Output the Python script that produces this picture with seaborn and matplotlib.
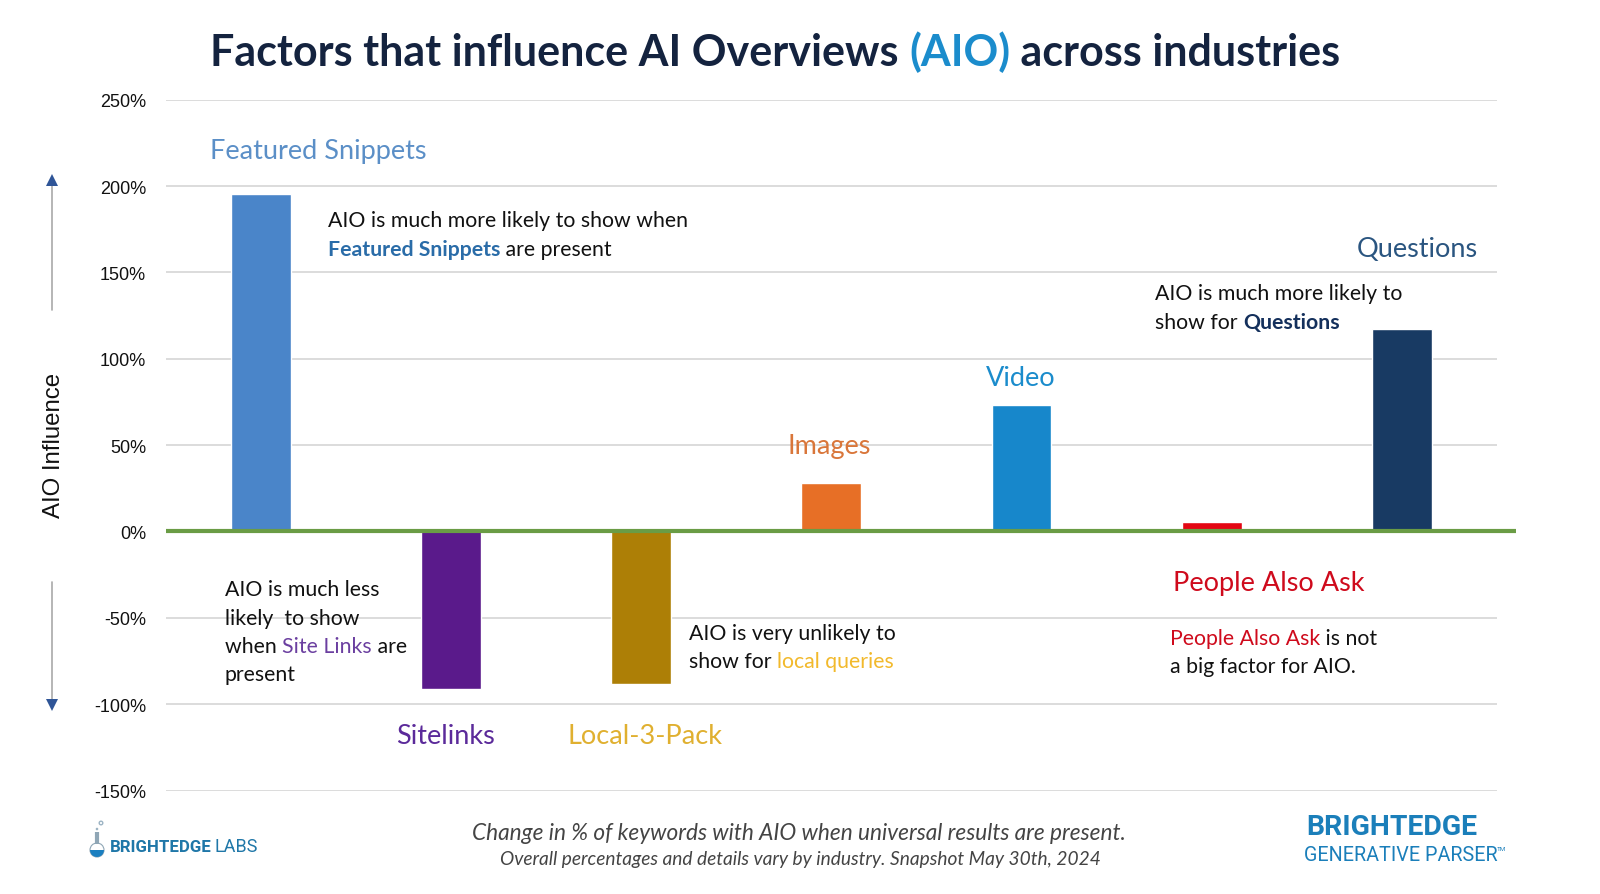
import matplotlib
matplotlib.use("Agg")
import matplotlib.pyplot as plt
import pandas as pd
import seaborn as sns
from matplotlib.patches import Circle, Wedge

CATEGORIES = ["Featured Snippets", "Sitelinks", "Local-3-Pack", "Images", "Video", "People Also Ask", "Questions"]
VALUES = [195.5, -91, -88.5, 28, 73, 5.5, 117]
BAR_COLORS = ["#4a85c9", "#5a1a8b", "#ad7f06", "#e76f26", "#1787cb", "#e30613", "#183a63"]
Y_TICKS = [-150, -100, -50, 0, 50, 100, 150, 200, 250]

TITLE_DARK = "#14233f"
AIO_BLUE = "#1b8ccc"
BLACK = "#111111"

sns.set_theme(style="white")
plt.rcParams["font.family"] = ["Lato", "DejaVu Sans"]

W, H = 1600, 895
fig = plt.figure(figsize=(W / 100, H / 100), dpi=100, facecolor="white")
ax = fig.add_axes([165.5 / W, 1 - 791.5 / H, (1497 - 165.5) / W, (791.5 - 100.7) / H])

df = pd.DataFrame({"factor": CATEGORIES, "value": VALUES})
sns.barplot(data=df, x="factor", y="value", hue="factor", palette=BAR_COLORS,
            width=0.315, saturation=1, legend=False, ax=ax)

ax.set_xlim(-0.5, 6.5)
ax.set_ylim(-150, 250)
ax.set_yticks(Y_TICKS)
ax.set_yticklabels([f"{t}%" for t in Y_TICKS], family="Liberation Sans", fontsize=13, color="#111111")
for tick_label in ax.get_yticklabels():
    tick_label.set_va("center_baseline")
ax.set_xticks([])
ax.set_xlabel("")
ax.set_ylabel("")
ax.tick_params(axis="y", length=0, pad=14)
ax.grid(axis="y", color="#d6d6d6", lw=1.2)
ax.set_axisbelow(True)
sns.despine(ax=ax, left=True, bottom=True, top=True, right=True)
ax.axhline(0, xmin=0, xmax=1.014, color="#6a9c45", lw=3, clip_on=False, zorder=5,
           solid_capstyle="butt")

# everything around the chart goes on an overlay in pixel coordinates
overlay = fig.add_axes([0, 0, 1, 1], facecolor="none")
overlay.set_xlim(0, W)
overlay.set_ylim(H, 0)
overlay.axis("off")
renderer = fig.canvas.get_renderer()


def run_width(text, size, weight, style):
    probe = overlay.text(0, 0, text + "|", fontsize=size, fontweight=weight, style=style)
    bar = overlay.text(0, 0, "|", fontsize=size, fontweight=weight, style=style)
    width = probe.get_window_extent(renderer).width - bar.get_window_extent(renderer).width
    probe.remove()
    bar.remove()
    return width


def draw_runs(x, y, runs, size=15.3):
    # mixed colour lines, one piece after the other
    for text, color, weight in runs:
        overlay.text(x, y, text, color=color, fontsize=size, fontweight=weight, va="baseline")
        x += run_width(text, size, weight, "normal")


# title
draw_runs(210, 66, [("Factors that influence AI Overviews ", TITLE_DARK, "bold"),
                    ("(AIO)", AIO_BLUE, "bold"),
                    (" across industries", TITLE_DARK, "bold")], size=30.95)

# factor names
labels = [("Featured Snippets", 210, 159, "#5b8fc7"),
          ("Questions", 1357, 257, "#2a5580"),
          ("Video", 986, 386, "#1b8ccc"),
          ("Images", 788, 454, "#d9763a"),
          ("People Also Ask", 1173, 591, "#cf0a1c"),
          ("Sitelinks", 396, 744, "#5b2a9a"),
          ("Local-3-Pack", 568, 744, "#e0b030")]
for text, x, y, color in labels:
    overlay.text(x, y, text, color=color, fontsize=19.5, va="baseline")

# notes
draw_runs(328, 227, [("AIO is much more likely to show when", BLACK, "normal")])
draw_runs(328, 256, [("Featured Snippets", "#2a6ca8", "bold"), (" are present", BLACK, "normal")])
draw_runs(1155, 300, [("AIO is much more likely to", BLACK, "normal")])
draw_runs(1155, 329, [("show for ", BLACK, "normal"), ("Questions", "#14305c", "bold")])
draw_runs(225, 596, [("AIO is much less", BLACK, "normal")])
draw_runs(225, 625, [("likely  to show", BLACK, "normal")])
draw_runs(225, 653, [("when ", BLACK, "normal"), ("Site Links", "#6b3fa0", "normal"), (" are", BLACK, "normal")])
draw_runs(225, 681, [("present", BLACK, "normal")])
draw_runs(689, 640, [("AIO is very unlikely to", BLACK, "normal")])
draw_runs(689, 668, [("show for ", BLACK, "normal"), ("local queries", "#f2b92b", "normal")])
draw_runs(1170, 645, [("People Also Ask", "#cf0a1c", "normal"), (" is not", BLACK, "normal")])
draw_runs(1170, 673, [("a big factor for AIO.", BLACK, "normal")])

# y axis name with its two arrows
overlay.text(54, 445, "AIO Influence", rotation=90, ha="center", va="center",
             fontsize=17.3, color="#111111", family="Liberation Sans")
overlay.plot([52, 52], [311, 182], color="#a9a9a9", lw=1.2)
overlay.plot([52], [181], marker="^", ms=8, color="#2f5597", mew=0)
overlay.plot([52, 52], [583, 705], color="#a9a9a9", lw=1.2)
overlay.plot([52], [706], marker="v", ms=8, color="#2f5597", mew=0)

# footer
overlay.text(799, 834, "Change in % of keywords with AIO when universal results are present.",
             ha="center", va="center", style="italic", fontsize=16.3, color="#444444")
overlay.text(800, 860, "Overall percentages and details vary by industry. Snapshot May 30th, 2024",
             ha="center", va="center", style="italic", fontsize=13.8, color="#444444")

# left logo
overlay.add_patch(Circle((97, 851), 7, fc="none", ec="#8fa6b5", lw=0.8))
overlay.add_patch(Wedge((97, 851), 7, 0, 180, fc="#1b7fc0", ec="none"))
overlay.plot([97, 97], [833, 845], color="#8fa6b5", lw=3, solid_capstyle="butt")
overlay.add_patch(Circle((101, 824), 1.8, fc="none", ec="#9db4c4", lw=1))
overlay.add_patch(Circle((97, 830), 1.3, fc="#9db4c4", ec="none"))
overlay.text(110, 852, "BRIGHTEDGE", family="Roboto", fontweight="bold", fontsize=12.2,
             color="#1f77a8", va="baseline")
overlay.text(215, 852, "LABS", family="Roboto", fontsize=13, color="#1f77a8", va="baseline")

# right logo
overlay.text(1306, 835, "BRIGHTEDGE", family="Roboto", fontweight="bold", fontsize=20.4,
             color="#1b7fba", va="baseline")
overlay.text(1304, 861, "GENERATIVE PARSER", family="Roboto", fontsize=14.2,
             color="#1b7fba", va="baseline")
overlay.text(1497, 851, "TM", family="Roboto", fontsize=4.5, color="#1b7fba", va="baseline")

fig.savefig("out.png", dpi=100)
